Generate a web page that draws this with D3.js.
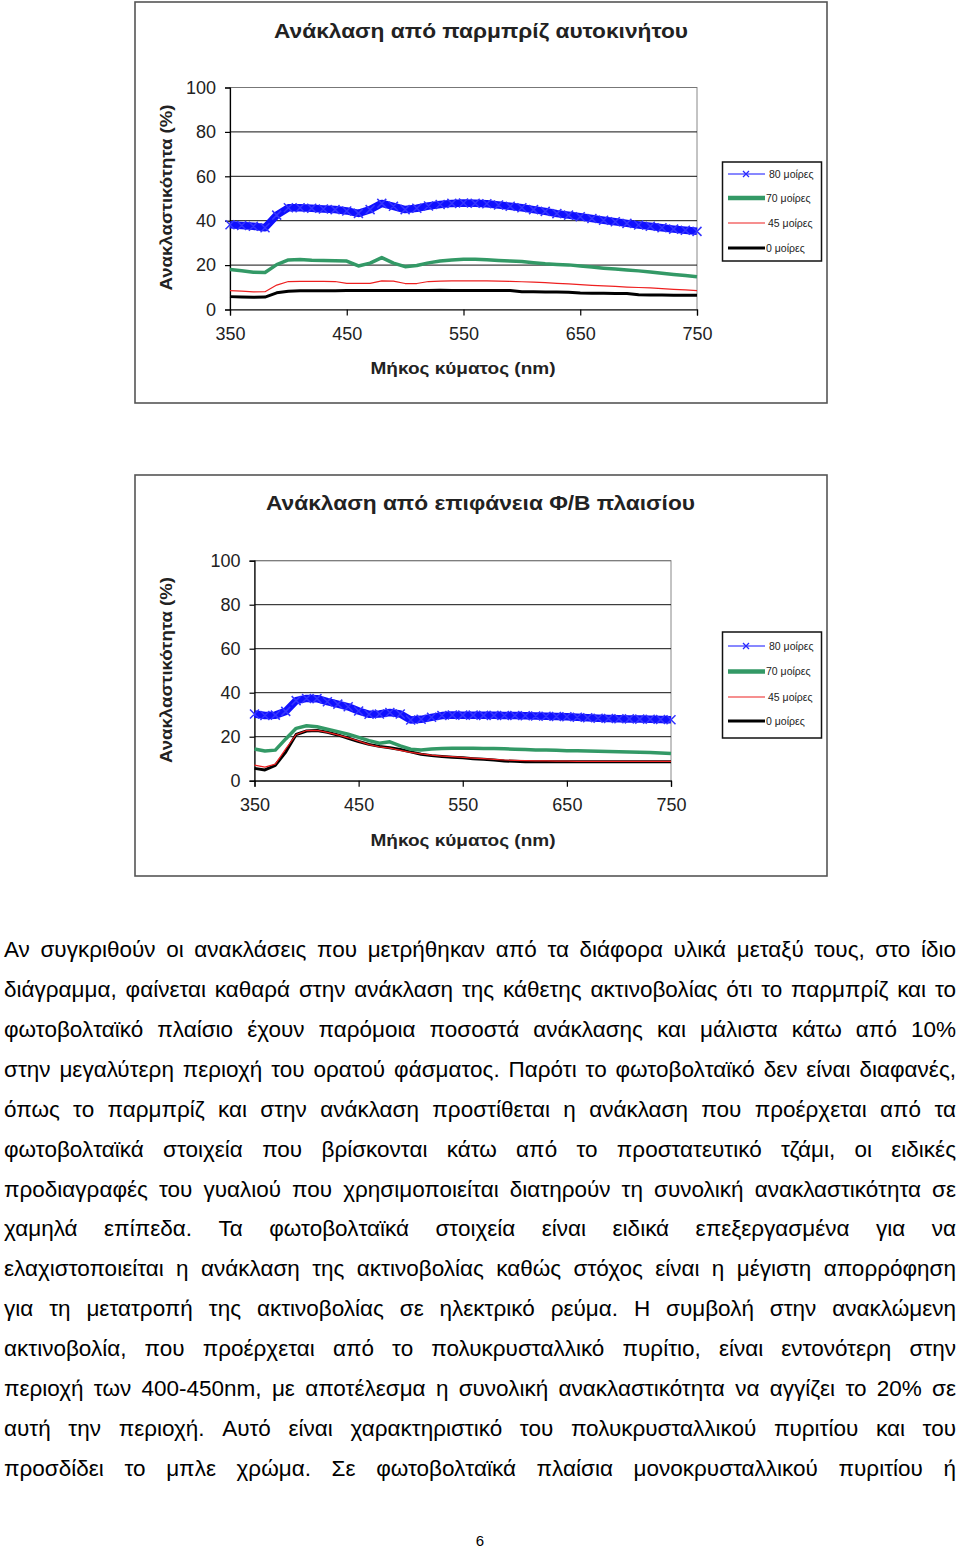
<!DOCTYPE html>
<html><head><meta charset="utf-8">
<script src="https://cdn.jsdelivr.net/npm/d3@7"></script>
<style>body{margin:0;background:#fff}svg{display:block}</style>
</head><body><svg id="page" width="960" height="1549"></svg>
<script>
// ---------- DATA ----------
const wavelengths = [350,360,370,380,390,400,410,420,430,440,450,460,470,480,490,500,510,520,530,540,550,560,570,580,590,600,610,620,630,640,650,660,670,680,690,700,710,720,730,740,750];

// Chart 1: windshield
const car80 = [38.2,37.8,37.5,36.8,42.5,45.8,45.8,45.6,45.3,45.0,44.4,43.3,45.0,47.8,46.5,45.0,45.6,46.6,47.3,47.8,48.0,47.9,47.6,47.1,46.5,45.8,45.0,44.2,43.2,42.5,41.8,41.0,40.2,39.5,38.8,38.1,37.5,36.8,36.2,35.7,35.2];
const car70 = [18.0,17.5,16.8,16.7,20.2,22.3,22.5,22.2,22.1,22.0,21.8,19.6,20.9,23.4,20.9,19.3,19.8,21.0,21.8,22.3,22.6,22.6,22.4,22.1,21.8,21.6,21.1,20.6,20.3,20.1,19.6,19.1,18.6,18.2,17.8,17.4,16.9,16.3,15.8,15.3,14.8];
const car45 = [8.5,8.3,7.9,8.0,11.0,12.6,12.7,12.7,12.7,12.6,11.8,11.8,11.8,12.9,12.8,11.7,11.7,12.6,12.8,12.9,12.9,12.9,12.9,12.8,12.7,12.5,12.3,12.1,11.8,11.5,11.2,10.9,10.6,10.4,10.1,9.9,9.7,9.4,9.1,8.8,8.5];
const car0  = [5.8,5.6,5.5,5.6,7.5,8.2,8.4,8.4,8.5,8.5,8.6,8.6,8.6,8.6,8.6,8.6,8.6,8.6,8.7,8.6,8.6,8.6,8.6,8.6,8.6,8.0,8.0,7.9,7.9,7.8,7.4,7.3,7.3,7.2,7.2,6.6,6.5,6.5,6.4,6.4,6.4];

// Chart 2: PV module surface
const pv80 = [30.3,29.6,29.8,31.5,36.4,37.4,37.3,35.9,34.8,33.6,31.7,30.2,30.3,31.0,30.3,27.6,27.9,28.8,29.6,29.9,29.8,29.8,29.7,29.7,29.6,29.6,29.5,29.4,29.3,29.2,29.1,28.8,28.6,28.4,28.3,28.2,28.1,28.0,27.9,27.8,27.7];
const pv70 = [14.4,13.5,13.9,19.0,23.8,25.0,24.5,23.4,22.3,21.1,19.7,18.2,17.0,17.7,15.8,14.3,14.0,14.4,14.6,14.7,14.7,14.7,14.6,14.6,14.5,14.3,14.2,14.0,13.9,13.8,13.6,13.6,13.5,13.4,13.3,13.2,13.1,12.9,12.8,12.6,12.4];
const pv45 = [7.1,6.2,7.5,14.5,21.0,22.8,22.9,22.0,20.8,19.5,18.0,16.4,15.4,14.8,13.8,12.9,12.2,11.6,11.2,10.9,10.6,10.3,10.0,9.7,9.4,9.2,9.1,9.0,9.0,8.9,8.9,8.8,8.8,8.8,8.8,8.8,8.8,8.8,8.8,8.8,8.8];
const pv0  = [5.6,4.9,7.0,13.0,21.0,22.6,22.8,22.0,20.8,19.3,17.8,16.5,15.6,15.0,14.2,13.1,12.0,11.4,11.0,10.7,10.4,10.0,9.7,9.4,9.0,8.8,8.6,8.6,8.6,8.6,8.6,8.6,8.6,8.6,8.6,8.6,8.6,8.6,8.6,8.6,8.6];

const seriesNames = ["80 μοίρες","70 μοίρες","45 μοίρες","0 μοίρες"];
const yTicks = [0,20,40,60,80,100];
const xTicks = [350,450,550,650,750];
const chartTitles = ["Ανάκλαση από παρμπρίζ αυτοκινήτου","Ανάκλαση από επιφάνεια Φ/Β πλαισίου"];
const yAxisTitle = "Ανακλαστικότητα (%)";
const xAxisTitle = "Μήκος κύματος (nm)";

const paragraphLines = [
"Αν συγκριθούν οι ανακλάσεις που μετρήθηκαν από τα διάφορα υλικά μεταξύ τους, στο ίδιο",
"διάγραμμα, φαίνεται καθαρά στην ανάκλαση της κάθετης ακτινοβολίας ότι το παρμπρίζ και το",
"φωτοβολταϊκό πλαίσιο έχουν παρόμοια ποσοστά ανάκλασης και μάλιστα κάτω από 10%",
"στην μεγαλύτερη περιοχή του ορατού φάσματος. Παρότι το φωτοβολταϊκό δεν είναι διαφανές,",
"όπως το παρμπρίζ και στην ανάκλαση προστίθεται η ανάκλαση που προέρχεται από τα",
"φωτοβολταϊκά στοιχεία που βρίσκονται κάτω από το προστατευτικό τζάμι, οι ειδικές",
"προδιαγραφές του γυαλιού που χρησιμοποιείται διατηρούν τη συνολική ανακλαστικότητα σε",
"χαμηλά επίπεδα. Τα φωτοβολταϊκά στοιχεία είναι ειδικά επεξεργασμένα για να",
"ελαχιστοποιείται η ανάκλαση της ακτινοβολίας καθώς στόχος είναι η μέγιστη απορρόφηση",
"για τη μετατροπή της ακτινοβολίας σε ηλεκτρικό ρεύμα. Η συμβολή στην ανακλώμενη",
"ακτινοβολία, που προέρχεται από το πολυκρυσταλλικό πυρίτιο, είναι εντονότερη στην",
"περιοχή των 400-450nm, με αποτέλεσμα η συνολική ανακλαστικότητα να αγγίζει το 20% σε",
"αυτή την περιοχή. Αυτό είναι χαρακτηριστικό του πολυκρυσταλλικού πυριτίου και του",
"προσδίδει το μπλε χρώμα. Σε φωτοβολταϊκά πλαίσια μονοκρυσταλλικού πυριτίου ή"
];
const pageNumber = "6";

// ---------- DRAWING ----------
const svg = d3.select("#page");
const FONT = "'Liberation Sans', Arial, sans-serif";
const colors = ["#1010ff","#339966","#ee2020","#000000"];
const widths = [7.5,3.5,1.2,3];

function drawChart(cfg, series) {
  const g = svg.append("g");
  g.append("rect").attr("x",cfg.fx).attr("y",cfg.fy).attr("width",cfg.fw).attr("height",cfg.fh)
    .attr("fill","#fff").attr("stroke","#555").attr("stroke-width",1.6);

  const x = d3.scaleLinear().domain([350,750]).range([cfg.x0,cfg.x1]);
  const y = d3.scaleLinear().domain([0,100]).range([cfg.y0,cfg.y1]);

  g.append("rect").attr("x",cfg.x0).attr("y",cfg.y1).attr("width",cfg.x1-cfg.x0).attr("height",cfg.y0-cfg.y1)
    .attr("fill","#fff").attr("stroke","#888").attr("stroke-width",1);

  g.append("g").selectAll("line").data(yTicks.filter(t=>t>0)).join("line")
    .attr("x1",cfg.x0).attr("x2",cfg.x1).attr("y1",d=>y(d)).attr("y2",d=>y(d))
    .attr("stroke",d=>d===100?"#777":"#111").attr("stroke-width",1);

  const ya = g.append("g").attr("transform",`translate(${cfg.x0},0)`)
    .call(d3.axisLeft(y).tickValues(yTicks).tickSize(5).tickPadding(9).tickFormat(d3.format("d")));
  const xa = g.append("g").attr("transform",`translate(0,${cfg.y0})`)
    .call(d3.axisBottom(x).tickValues(xTicks).tickSize(6).tickPadding(12).tickFormat(d3.format("d")));
  [ya,xa].forEach(a=>{
    a.selectAll(".domain").attr("stroke","#000").attr("stroke-width",1.2);
    a.selectAll(".tick line").attr("stroke","#000").attr("stroke-width",1.2);
    a.selectAll("text").attr("font-family",FONT).attr("font-size",18).attr("fill","#222");
  });

  const line = d3.line().x((d,i)=>x(wavelengths[i])).y(d=>y(d));
  for (let s = series.length-1; s >= 0; s--) {
    g.append("path").datum(series[s]).attr("d",line).attr("fill","none")
      .attr("stroke",colors[s]).attr("stroke-width",widths[s]).attr("stroke-linejoin","round");
  }
  const m = 4.5;
  g.append("path").attr("fill","none").attr("stroke","#3535ff").attr("stroke-width",1.5)
    .attr("d", series[0].map((d,i)=>{const px=x(wavelengths[i]), py=y(d);
      return `M${px-m},${py-m}L${px+m},${py+m}M${px-m},${py+m}L${px+m},${py-m}`;}).join(""));

  g.append("text").attr("x",cfg.titleX).attr("y",cfg.titleY).attr("text-anchor","middle")
    .attr("font-family",FONT).attr("font-weight","bold").attr("font-size",21).attr("fill","#222")
    .attr("textLength",cfg.titleW).attr("lengthAdjust","spacingAndGlyphs").text(cfg.title);
  g.append("text").attr("x",463).attr("y",cfg.xtY).attr("text-anchor","middle")
    .attr("font-family",FONT).attr("font-weight","bold").attr("font-size",17).attr("fill","#222")
    .attr("textLength",185).attr("lengthAdjust","spacingAndGlyphs").text(xAxisTitle);
  g.append("text").attr("transform",`translate(172,${cfg.ytY}) rotate(-90)`).attr("text-anchor","middle")
    .attr("font-family",FONT).attr("font-weight","bold").attr("font-size",16.5).attr("fill","#222")
    .attr("textLength",186).attr("lengthAdjust","spacingAndGlyphs").text(yAxisTitle);

  const L = g.append("g");
  L.append("rect").attr("x",722.5).attr("y",cfg.ly).attr("width",99).attr("height",cfg.lh)
    .attr("fill","#fff").attr("stroke","#111").attr("stroke-width",1.5);
  seriesNames.forEach((nm,i)=>{
    const yy = cfg.ly + cfg.lrows[i];
    L.append("line").attr("x1",728).attr("x2",765).attr("y1",yy).attr("y2",yy)
      .attr("stroke",colors[i]).attr("stroke-width",i===0?1:(i===1?4.5:widths[i]));
    if (i===0) {
      L.append("path").attr("d",`M${746-3},${yy-3}L${746+3},${yy+3}M${746-3},${yy+3}L${746+3},${yy-3}`)
        .attr("stroke","#2a2aff").attr("stroke-width",1.3);
    }
    L.append("text").attr("x",i===0?769:(i===2?768:766)).attr("y",yy+3.8)
      .attr("font-family",FONT).attr("font-size",10.5).attr("fill","#222").text(nm);
  });
}

drawChart({fx:135,fy:2,fw:692,fh:401,x0:230,x1:697,y0:309.5,y1:87.5,
  title:chartTitles[0],titleX:481,titleY:38,titleW:414,xtY:374,ytY:197.5,
  ly:162,lh:99,lrows:[12,36,61,86]}, [car80,car70,car45,car0]);
drawChart({fx:135,fy:475,fw:692,fh:401,x0:254.5,x1:671,y0:780.7,y1:560.7,
  title:chartTitles[1],titleX:480.5,titleY:510,titleW:429,xtY:846,ytY:670,
  ly:632,lh:106,lrows:[14,39.5,65,89]}, [pv80,pv70,pv45,pv0]);

// paragraph (justified)
const LEFT = 4, RIGHT = 956, FS = 22.5;
const pg = svg.append("g").attr("font-family",FONT).attr("font-size",FS).attr("fill","#000");
paragraphLines.forEach((ln,i)=>{
  const by = 957 + i*39.92;
  const words = ln.split(" ");
  const nodes = words.map(w=>pg.append("text").attr("y",by).text(w));
  const ws = nodes.map(n=>n.node().getComputedTextLength());
  const total = d3.sum(ws);
  let gap = (RIGHT-LEFT-total)/(words.length-1);
  let scale = 1;
  if (gap < 5.5) { gap = 5.5; scale = (RIGHT-LEFT-gap*(words.length-1))/total; }
  let cx = LEFT;
  nodes.forEach((n,k)=>{
    n.attr("x",cx);
    if (scale !== 1) n.attr("textLength",ws[k]*scale).attr("lengthAdjust","spacingAndGlyphs");
    cx += ws[k]*scale + gap;
  });
});
svg.append("text").attr("x",480).attr("y",1546).attr("text-anchor","middle")
  .attr("font-family",FONT).attr("font-size",15).attr("fill","#000").text(pageNumber);
</script></body></html>
